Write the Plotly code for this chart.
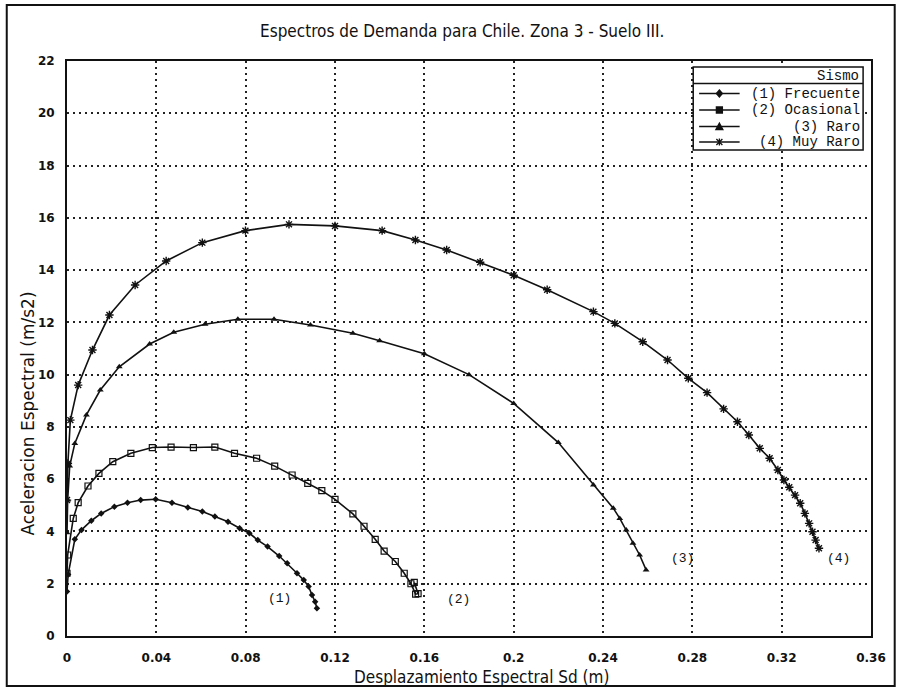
import plotly.graph_objects as go

# Demand spectra (Sa vs Sd) for Chile, Zone 3, Soil III
sd_frecuente = [0.0, 0.0005, 0.0035, 0.0065, 0.0109, 0.0153, 0.0212, 0.0271, 0.033, 0.0397,
                0.047, 0.0541, 0.0606, 0.0662, 0.0721, 0.0773, 0.0817, 0.0854, 0.0898, 0.095,
                0.0986, 0.103, 0.106, 0.1082, 0.1097, 0.1111, 0.1119]
sa_frecuente = [1.7, 2.35, 3.7, 4.06, 4.41, 4.69, 4.95, 5.10, 5.20, 5.23,
                5.10, 4.92, 4.76, 4.57, 4.37, 4.12, 3.93, 3.67, 3.42, 3.06,
                2.78, 2.40, 2.14, 1.89, 1.57, 1.31, 1.06]

sd_ocasional = [0.0, 0.0003, 0.0028, 0.005, 0.0094, 0.0143, 0.0205, 0.0286, 0.0382, 0.0466,
                0.0566, 0.0662, 0.075, 0.0849, 0.093, 0.1008, 0.1078, 0.1141, 0.12, 0.128,
                0.133, 0.138, 0.142, 0.147, 0.151, 0.154, 0.1561, 0.1572, 0.1555]
sa_ocasional = [2.4, 3.1, 4.5, 5.1, 5.74, 6.22, 6.67, 6.99, 7.21, 7.23,
                7.21, 7.23, 6.99, 6.80, 6.50, 6.16, 5.84, 5.56, 5.23, 4.67,
                4.2, 3.7, 3.25, 2.85, 2.4, 2.0, 1.6, 1.62, 2.05]

sd_raro = [0.0, 0.0003, 0.0012, 0.0035, 0.0087, 0.0149, 0.0234, 0.037, 0.0478, 0.0618,
           0.0765, 0.0927, 0.109, 0.128, 0.14, 0.16, 0.18, 0.2, 0.22, 0.2357,
           0.2446, 0.2475, 0.2504, 0.2534, 0.2564, 0.2593]
sa_raro = [3.95, 5.2, 6.5, 7.37, 8.46, 9.41, 10.30, 11.17, 11.62, 11.93,
           12.12, 12.12, 11.9, 11.58, 11.3, 10.8, 10.0, 8.9, 7.4, 5.78,
           4.89, 4.50, 4.06, 3.55, 3.10, 2.53]

sd_muy_raro = [0.0, 0.0004, 0.0015, 0.005, 0.0114, 0.019, 0.0305, 0.0444, 0.0606, 0.0799,
               0.0994, 0.12, 0.1411, 0.156, 0.17, 0.185, 0.2, 0.215, 0.2357, 0.2453,
               0.2578, 0.2689, 0.2782, 0.2866, 0.294, 0.3002, 0.3053, 0.3102, 0.3146, 0.3183,
               0.321, 0.3234, 0.326, 0.3283, 0.3304, 0.3323, 0.3338, 0.3352, 0.3367]
sa_muy_raro = [5.2, 6.6, 8.26, 9.6, 10.94, 12.28, 13.43, 14.35, 15.05, 15.51,
               15.75, 15.69, 15.51, 15.15, 14.77, 14.3, 13.8, 13.25, 12.41, 11.96,
               11.26, 10.56, 9.86, 9.31, 8.69, 8.20, 7.69, 7.18, 6.80, 6.35,
               5.97, 5.69, 5.39, 5.08, 4.69, 4.31, 3.99, 3.67, 3.36]

series_names = ["(1) Frecuente", "(2) Ocasional", "(3) Raro", "(4) Muy Raro"]
curve_labels = ["(1)", "(2)", "(3)", "(4)"]
label_sd = [0.095, 0.1753, 0.2755, 0.3455]
label_sa = [1.44, 1.38, 2.97, 2.97]

x_ticks = [0, 0.04, 0.08, 0.12, 0.16, 0.2, 0.24, 0.28, 0.32, 0.36]
x_tick_text = ["0", "0.04", "0.08", "0.12", "0.16", "0.2", "0.24", "0.28", "0.32", "0.36"]
y_ticks = list(range(0, 23, 2))

W, H = 898, 689
ML, MR, MT, MB = 67, 17, 61, 53
PW, PH = W - ML - MR, H - MT - MB


def fx(px):
    return (px - ML) / PW


def fy(py):
    return (H - MB - py) / PH


mono = "Liberation Mono, DejaVu Sans Mono, monospace"
narrow = "DejaVu Sans Condensed, Liberation Sans Narrow, Liberation Sans, sans-serif"

styles = [
    dict(symbol="diamond", size=5, line=dict(width=0)),
    dict(symbol="square-open", size=6, line=dict(width=1.2)),
    dict(symbol="triangle-up", size=6, line=dict(width=0)),
    dict(symbol="asterisk-open", size=7, line=dict(width=1.4)),
]
series = [(sd_frecuente, sa_frecuente), (sd_ocasional, sa_ocasional),
          (sd_raro, sa_raro), (sd_muy_raro, sa_muy_raro)]

fig = go.Figure()
for (xs, ys), name, st in zip(series, series_names, styles):
    fig.add_trace(go.Scatter(
        x=xs, y=ys, name=name, mode="lines+markers",
        line=dict(color="#111", width=1.6),
        marker=dict(color="#111", **st),
        showlegend=False,
    ))

annotations = []
for t, xv, yv in zip(curve_labels, label_sd, label_sa):
    annotations.append(dict(x=xv, y=yv, xref="x", yref="y", text=t, showarrow=False,
                            font=dict(family=mono, size=13, color="#111")))

# title and axis titles
annotations.append(dict(x=fx(467), y=fy(31), xref="paper", yref="paper",
                        text="Espectros de Demanda para Chile. Zona 3 - Suelo III.",
                        showarrow=False, xanchor="center", yanchor="middle",
                        font=dict(family=narrow, size=17, color="#111")))
annotations.append(dict(x=fx(487), y=fy(677), xref="paper", yref="paper",
                        text="Desplazamiento Espectral Sd (m)",
                        showarrow=False, xanchor="center", yanchor="middle",
                        font=dict(family=narrow, size=17, color="#111")))
annotations.append(dict(x=fx(28), y=fy(413), xref="paper", yref="paper",
                        text="Aceleracion Espectral (m/s2)", textangle=-90,
                        showarrow=False, xanchor="center", yanchor="middle",
                        font=dict(family="DejaVu Sans, sans-serif", size=17, color="#111")))

shapes = []
# outer frame
shapes.append(dict(type="rect", xref="paper", yref="paper",
                   x0=fx(6), x1=fx(905), y0=fy(686), y1=fy(5),
                   line=dict(color="#111", width=2), layer="above"))

# key box
kx0, kx1, ky0, ky1 = fx(701), fx(873), fy(150), fy(67)
shapes.append(dict(type="rect", xref="paper", yref="paper", x0=kx0, x1=kx1, y0=ky0, y1=ky1,
                   fillcolor="white", line=dict(color="#111", width=1.5), layer="above"))
shapes.append(dict(type="line", xref="paper", yref="paper", x0=kx0, x1=kx1,
                   y0=fy(83.5), y1=fy(83.5), line=dict(color="#111", width=1.5), layer="above"))
annotations.append(dict(x=fx(871), y=fy(75.5), xref="paper", yref="paper", text="Sismo",
                        xanchor="right", yanchor="middle", showarrow=False,
                        font=dict(family=mono, size=14, color="#111")))

marker_paths = [
    "M 0,3.5 L 3,0 L 0,-3.5 L -3,0 Z",
    "M -3,-3 L 3,-3 L 3,3 L -3,3 Z",
    "M -3.5,-3 L 3.5,-3 L 0,3.5 Z",
    "M -3,-3 L 3,3 M -3,3 L 3,-3 M 0,-3.5 L 0,3.5",
]
row_y = [93.5, 110, 126.5, 142]
for name, ry, mp in zip(series_names, row_y, marker_paths):
    shapes.append(dict(type="line", xref="paper", yref="paper", x0=fx(707), x1=fx(748),
                       y0=fy(ry), y1=fy(ry), line=dict(color="#111", width=1.4), layer="above"))
    shapes.append(dict(type="path", xref="paper", yref="paper", xsizemode="pixel",
                       ysizemode="pixel", xanchor=fx(727.5), yanchor=fy(ry), path=mp,
                       fillcolor="#111", line=dict(color="#111", width=1.3), layer="above"))
    annotations.append(dict(x=fx(872), y=fy(ry), xref="paper", yref="paper", text=name,
                            xanchor="right", yanchor="middle", showarrow=False,
                            font=dict(family=mono, size=14, color="#111")))

fig.update_layout(
    width=W, height=H,
    margin=dict(l=ML, r=MR, t=MT, b=MB),
    paper_bgcolor="white", plot_bgcolor="white",
    shapes=shapes, annotations=annotations,
    showlegend=False,
)
grid = dict(showgrid=True, gridcolor="#222", gridwidth=1.5, griddash="2px,4px",
            showline=True, linecolor="#111", linewidth=2, mirror=True,
            zeroline=False, ticks="", tickfont=dict(family="DejaVu Sans", size=12,
                                                     color="#111", weight="bold"))
fig.update_xaxes(range=[0, 0.36], tickvals=x_ticks, ticktext=x_tick_text,
                 ticklabelstandoff=10, **grid)
fig.update_yaxes(range=[0, 22], tickvals=y_ticks, ticklabelstandoff=8, **grid)

fig.write_html("out.html")
